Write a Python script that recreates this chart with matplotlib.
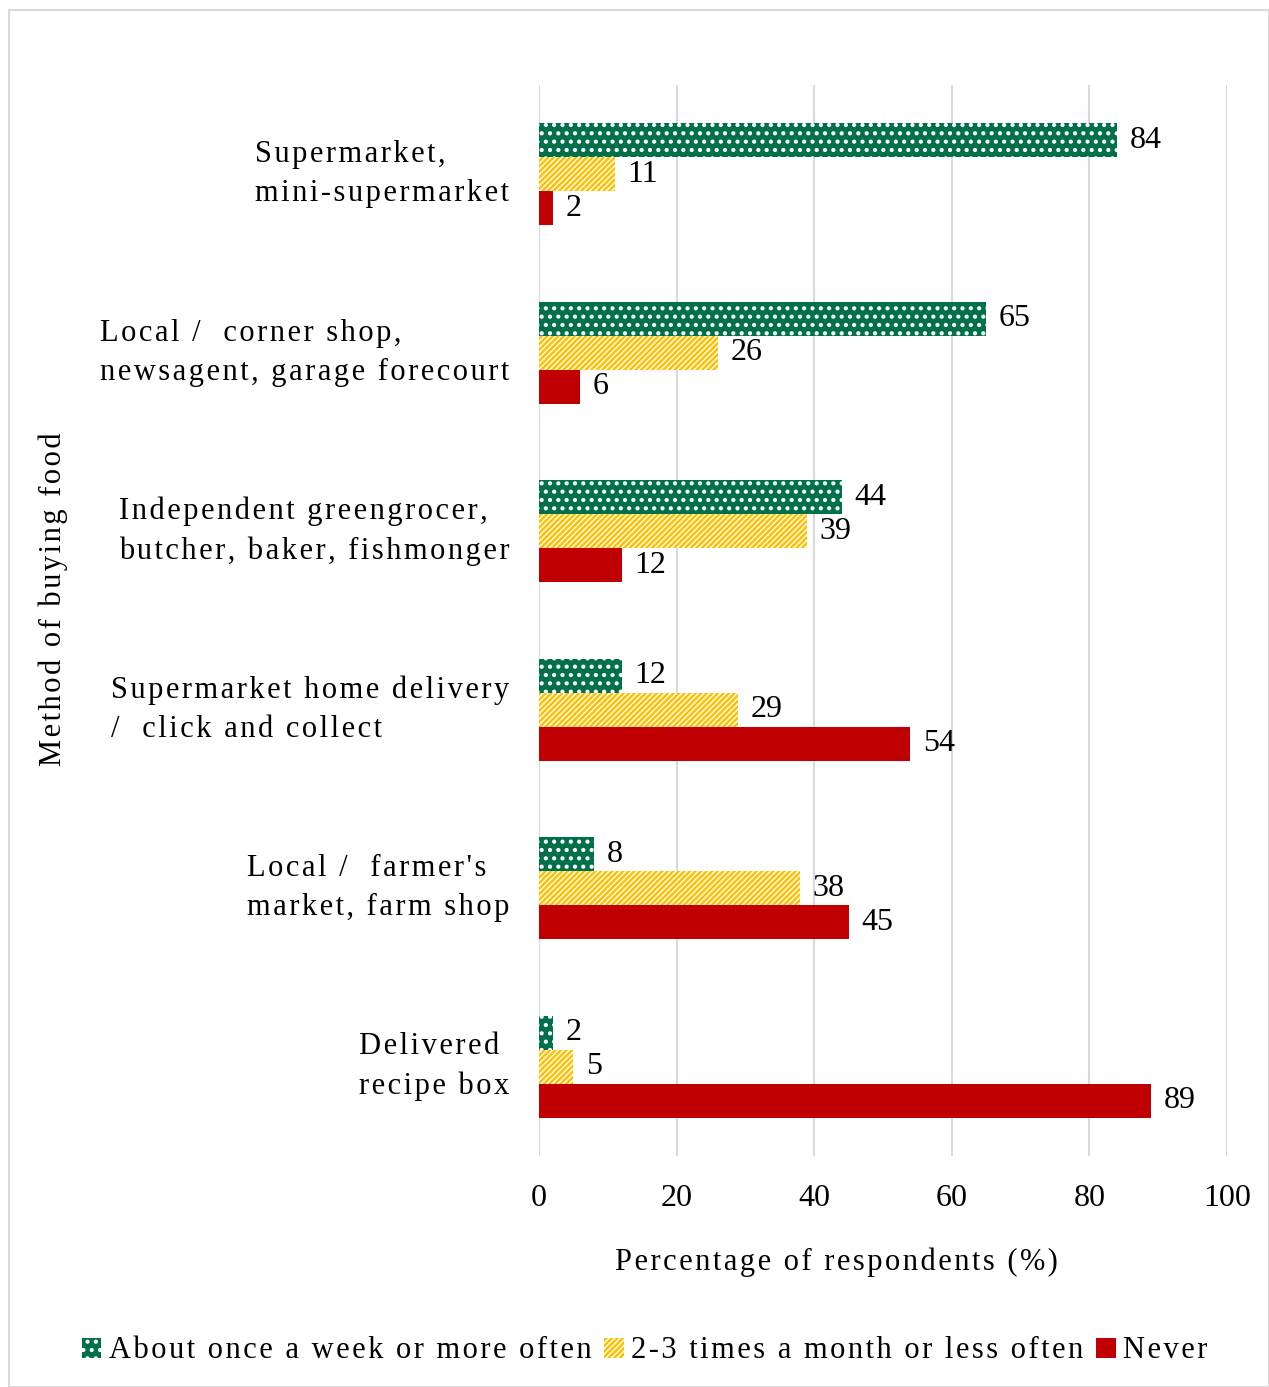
import numpy as np
import matplotlib.pyplot as plt

# Daten
categories = ['Supermarket,\nmini-supermarket',
              'Local /  corner shop,\nnewsagent, garage forecourt',
              'Independent greengrocer,\nbutcher, baker, fishmonger',
              'Supermarket home delivery\n/  click and collect',
              "Local /  farmer's\nmarket, farm shop",
              'Delivered\nrecipe box']
weekly = [84, 65, 44, 12, 8, 2]
monthly = [11, 26, 39, 29, 38, 5]
never = [2, 6, 12, 54, 45, 89]
series_names = ['About once a week or more often', '2-3 times a month or less often', 'Never']


def sperren(s):
    # Buchstaben etwas auseinanderziehen (wie in Excel)
    return '\n'.join('\u200a'.join(line) for line in s.split('\n'))


plt.rcParams['font.family'] = ['Liberation Serif', 'DejaVu Serif']
plt.rcParams['hatch.linewidth'] = 1.8

fig = plt.figure(figsize=(12.69, 13.87), dpi=100)
ax = fig.add_axes([0.4247, 0.1665, 0.5422, 0.7722])

green = '#00704A'
yellow = '#FFC000'
red = '#C00000'

y = np.arange(len(categories))
h = 0.19

b1 = ax.barh(y - h, weekly, height=h, color=green, edgecolor='white', hatch='..', linewidth=0,
             label=sperren(series_names[0]))
b2 = ax.barh(y, monthly, height=h, color='white', edgecolor=yellow, hatch='//////', linewidth=0,
             label=sperren(series_names[1]))
b3 = ax.barh(y + h, never, height=h, color=red, linewidth=0, label=sperren(series_names[2]))

for bars in (b1, b2, b3):
    ax.bar_label(bars, padding=9, fontsize=23)

ax.set_ylim(len(categories) - 0.5, -0.5)
ax.set_xlim(0, 100)
ax.set_xticks(np.arange(0, 101, 20))
ax.set_yticks(y)
ax.set_yticklabels([])
ax.tick_params(axis='both', length=0, labelsize=23)
ax.tick_params(axis='x', pad=20)
ax.xaxis.grid(True, color='#D9D9D9', linewidth=1.5)
ax.set_axisbelow(True)
for s in ax.spines.values():
    s.set_visible(False)

# Kategorien links, rechtsbuendig als Block
for yi, lab in zip(y, categories):
    ax.text(-0.043, yi, sperren(lab), transform=ax.get_yaxis_transform(), ha='right', va='center',
            multialignment='left', fontsize=22, linespacing=1.45)

fig.text(0.042, 0.568, sperren('Method of buying food'), rotation=90, ha='center', va='center', fontsize=22)
fig.text(0.659, 0.090, sperren('Percentage of respondents (%)'), ha='center', va='center', fontsize=22)

leg = fig.legend(handles=[b1, b2, b3], loc='center', bbox_to_anchor=(0.508, 0.026), ncol=3,
                 frameon=False, fontsize=22, handlelength=0.65, handleheight=0.65,
                 handletextpad=0.25, columnspacing=0.4)

# Rahmen
fig.patches.append(plt.Rectangle((0.007, 0.0), 0.993, 0.993, transform=fig.transFigure,
                                 fill=False, edgecolor='#D9D9D9', linewidth=1.5))

plt.savefig('out.png', dpi=100)
